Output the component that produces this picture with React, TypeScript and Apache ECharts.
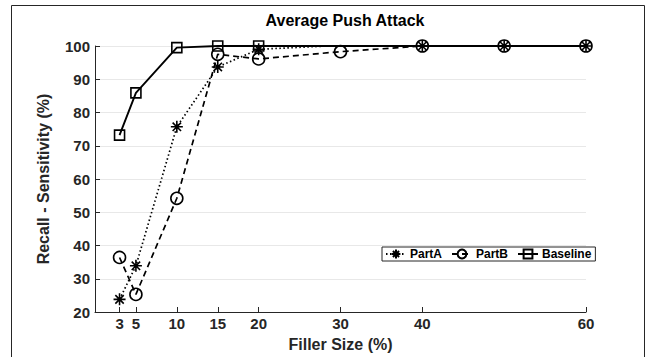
import React, { useEffect, useRef } from "react";
import * as echarts from "echarts";

const xTicks = [3, 5, 10, 15, 20, 30, 40, 60];
const partAX = [3, 5, 10, 15, 20, 30, 40, 50, 60];
const partAY = [23.8, 33.9, 75.7, 93.7, 99.0, 100.2, 100, 100, 100];
const partBX = [3, 5, 10, 15, 20, 30, 40, 50, 60];
const partBY = [36.4, 25.3, 54.2, 97.5, 96.1, 98.3, 100, 100, 100];
const baseX = [3, 5, 10, 15, 20, 40, 50, 60];
const baseY = [73.2, 85.9, 99.5, 100, 100, 100, 100, 100];
const baseMarked = [true, true, true, true, true, false, false, false];

const ASTERISK = "path://M5,0 L5,10 M0,5 L10,5 M1.5,1.5 L8.5,8.5 M1.5,8.5 L8.5,1.5";
const FONT = "Liberation Sans, Arial, sans-serif";
const TXT = "#262626";

export default function App() {
  const ref = useRef<HTMLDivElement>(null);
  useEffect(() => {
    if (!ref.current) return;
    const chart = echarts.init(ref.current, null, { renderer: "svg" });
    const pairs = (xs: number[], ys: number[]) => xs.map((x, i) => [x, ys[i]]);
    chart.setOption({
      animation: false,
      backgroundColor: "#fff",
      textStyle: { fontFamily: FONT },
      title: {
        text: "Average Push Attack",
        left: 340,
        textAlign: "center",
        top: 7,
        textStyle: { fontFamily: FONT, fontSize: 16, fontWeight: "bold", color: "#000" },
      },
      graphic: [
        {
          type: "rect",
          shape: { x: 11.5, y: 5.5, width: 633, height: 400 },
          style: { fill: "none", stroke: "#262626", lineWidth: 1 },
          silent: true,
        },
      ],
      legend: {
        left: 382,
        top: 247,
        orient: "horizontal",
        borderColor: "#262626",
        borderWidth: 1,
        borderRadius: 0,
        padding: [1, 4, 1, 3],
        itemGap: 9,
        itemWidth: 20,
        itemHeight: 11,
        textStyle: { fontFamily: FONT, fontSize: 12, fontWeight: "bold", color: "#000", padding: [0, 0, 0, -1] },
        data: ["PartA", "PartB", "Baseline"],
      },
      grid: { left: 95, right: 64, top: 46, bottom: 45, containLabel: false },
      xAxis: {
        type: "value",
        min: 0,
        max: 60,
        name: "Filler Size (%)",
        nameLocation: "middle",
        nameGap: 24,
        nameTextStyle: { fontFamily: FONT, fontSize: 16, fontWeight: "bold", color: TXT },
        axisLine: { show: true, lineStyle: { color: TXT, width: 1 } },
        axisTick: { show: true, inside: true, length: 5, customValues: xTicks, lineStyle: { color: TXT } },
        axisLabel: {
          customValues: xTicks,
          fontFamily: FONT,
          fontSize: 15,
          fontWeight: "bold",
          color: TXT,
          margin: 4,
        },
        splitLine: { show: false },
      },
      yAxis: {
        type: "value",
        min: 20,
        max: 100,
        interval: 10,
        name: "Recall - Sensitivity (%)",
        nameLocation: "middle",
        nameGap: 44,
        nameTextStyle: { fontFamily: FONT, fontSize: 16, fontWeight: "bold", color: TXT },
        axisLine: { show: true, lineStyle: { color: TXT, width: 1 } },
        axisTick: { show: true, inside: true, length: 5, lineStyle: { color: TXT } },
        axisLabel: { fontFamily: FONT, fontSize: 15, fontWeight: "bold", color: TXT, margin: 5 },
        splitLine: { show: true, lineStyle: { color: "#e8e8e8", width: 1 } },
      },
      series: [
        {
          name: "PartA",
          type: "line",
          data: pairs(partAX, partAY),
          symbol: ASTERISK,
          symbolSize: 12,
          lineStyle: { color: "#000", width: 1.7, type: [1.5, 2.5] },
          itemStyle: { color: "rgba(0,0,0,0)", borderColor: "#000", borderWidth: 1.6 },
          z: 3,
        },
        {
          name: "PartB",
          type: "line",
          data: pairs(partBX, partBY),
          symbol: "circle",
          symbolSize: 12,
          lineStyle: { color: "#000", width: 1.7, type: [6, 4] },
          itemStyle: { color: "rgba(0,0,0,0)", borderColor: "#000", borderWidth: 1.6 },
          z: 3,
        },
        {
          name: "Baseline",
          type: "line",
          data: baseX.map((x, i) =>
            baseMarked[i] ? { value: [x, baseY[i]] } : { value: [x, baseY[i]], symbol: "none" }
          ),
          symbol: "rect",
          symbolSize: 10,
          lineStyle: { color: "#000", width: 1.9, type: "solid" },
          itemStyle: { color: "rgba(0,0,0,0)", borderColor: "#000", borderWidth: 1.6 },
          z: 3,
        },
      ],
    });
    return () => chart.dispose();
  }, []);
  return (
    <div
      ref={ref}
      style={{ position: "fixed", left: 0, top: 0, width: 650, height: 357 }}
    />
  );
}
